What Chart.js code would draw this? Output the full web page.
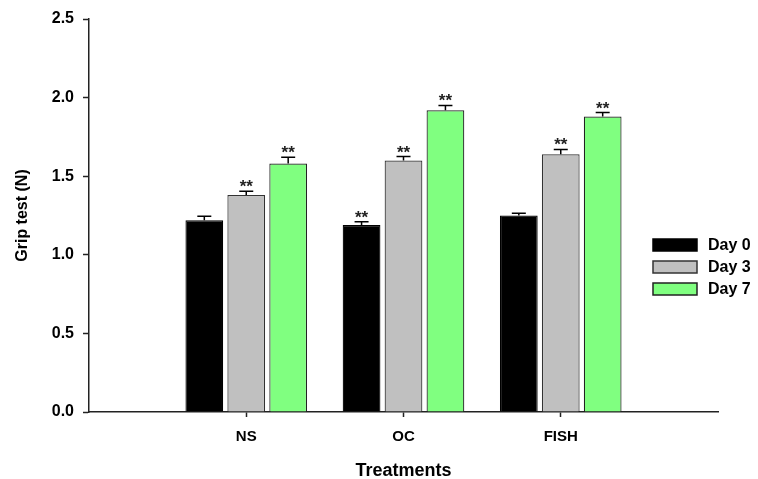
<!DOCTYPE html>
<html>
<head>
<meta charset="utf-8">
<script src="https://cdn.jsdelivr.net/npm/chart.js@4.4.1/dist/chart.umd.min.js"></script>
<style>
  body { margin: 0; background: #fff; }
  #wrap { width: 758px; height: 479px; }
</style>
</head>
<body>
<div id="wrap"><canvas id="gripChart" width="758" height="479"></canvas></div>
<script>
// ── Grip test data ----------------------------------------------------
// blank slots at both ends, the groups sit on whole positions 1..3
const treatments = ['', 'NS', 'OC', 'FISH', ''];
const seriesNames = ['Day 0', 'Day 3', 'Day 7'];

const day0 = [null, 1.22, 1.19, 1.25, null];
const day3 = [null, 1.38, 1.60, 1.64, null];
const day7 = [null, 1.58, 1.92, 1.88, null];

// SEM, upper whisker only
const err0 = [null, 0.025, 0.02, 0.015, null];
const err3 = [null, 0.025, 0.025, 0.03, null];
const err7 = [null, 0.04, 0.03, 0.025, null];

// significance marks
const sig0 = ['', '', '**', '', ''];
const sig3 = ['', '**', '**', '**', ''];
const sig7 = ['', '**', '**', '**', ''];

const yTicks = [0, 0.5, 1.0, 1.5, 2.0, 2.5];

const FONT = "'Liberation Sans', Arial, sans-serif";
const AXIS = '#222';

const errorBars = {
  id: 'errorBars',
  afterDatasetsDraw(chart) {
    const ctx = chart.ctx;
    const y = chart.scales.y;
    ctx.save();
    chart.data.datasets.forEach((ds, di) => {
      const meta = chart.getDatasetMeta(di);
      meta.data.forEach((bar, i) => {
        const v = ds.data[i];
        if (v == null) return;
        const top = y.getPixelForValue(v + ds.err[i]);
        const base = y.getPixelForValue(v);
        ctx.strokeStyle = '#000';
        ctx.lineWidth = 1.5;
        ctx.beginPath();
        ctx.moveTo(bar.x, base);
        ctx.lineTo(bar.x, top);
        ctx.moveTo(bar.x - 7, top);
        ctx.lineTo(bar.x + 7, top);
        ctx.stroke();
        if (ds.sig[i]) {
          ctx.fillStyle = '#222';
          ctx.font = `bold 17px ${FONT}`;
          ctx.textAlign = 'center';
          ctx.textBaseline = 'alphabetic';
          ctx.fillText(ds.sig[i], bar.x, top + 1);
        }
      });
    });
    ctx.restore();
  }
};

// legend sits inside the plot, to the right of FISH
const sideLegend = {
  id: 'sideLegend',
  afterDraw(chart) {
    const ctx = chart.ctx;
    ctx.save();
    chart.data.datasets.forEach((ds, i) => {
      const cy = 245 + i * 22;
      ctx.fillStyle = ds.backgroundColor;
      ctx.fillRect(653, cy - 6, 44, 12);
      ctx.strokeStyle = ds.borderColor;
      ctx.lineWidth = 1.5;
      ctx.strokeRect(653, cy - 6, 44, 12);
      ctx.fillStyle = '#000';
      ctx.font = `bold 16px ${FONT}`;
      ctx.textAlign = 'left';
      ctx.textBaseline = 'middle';
      ctx.fillText(ds.label, 708, cy + 1);
    });
    ctx.restore();
  }
};

function drawGripChart() {
  const canvas = document.getElementById('gripChart');
  const ctx = canvas.getContext('2d');

  const mk = (i, data, err, sig, fill, edge) => ({
    label: seriesNames[i],
    data, err, sig,
    backgroundColor: fill,
    borderColor: edge,
    borderWidth: 1.2,
    categoryPercentage: 0.8,
    barPercentage: 0.9,
  });

  const hideEnds = (c) => (c.index === 0 || c.index === treatments.length - 1) ? 'rgba(0,0,0,0)' : AXIS;

  new Chart(ctx, {
    type: 'bar',
    data: {
      labels: treatments,
      datasets: [
        mk(0, day0, err0, sig0, '#000000', '#000000'),
        mk(1, day3, err3, sig3, '#c0c0c0', '#333333'),
        mk(2, day7, err7, sig7, '#80ff80', '#222222'),
      ]
    },
    options: {
      responsive: false,
      animation: false,
      layout: { padding: { top: 19, right: 40, left: 0, bottom: 0 } },
      plugins: {
        legend:  { display: false },
        tooltip: { enabled: false }
      },
      scales: {
        x: {
          offset: false,
          afterFit: (s) => { s.height = 67; },
          border: { color: AXIS, width: 1.5 },
          grid: {
            offset: false,
            drawOnChartArea: false,
            tickLength: 5,
            tickWidth: 1.5,
            tickColor: hideEnds
          },
          ticks: {
            color: '#000', padding: 11, autoSkip: false, maxRotation: 0,
            font: { family: FONT, size: 15, weight: 'bold' }
          },
          title: {
            display: true, text: 'Treatments', color: '#000',
            padding: { top: 0, bottom: 0 },
            font: { family: FONT, size: 18, weight: 'bold', lineHeight: 0.9 }
          }
        },
        y: {
          min: 0, max: 2.5,
          afterFit: (s) => { s.width = 89; },
          afterBuildTicks: (s) => { s.ticks = yTicks.map(v => ({ value: v })); },
          border: { color: AXIS, width: 1.5 },
          grid: { drawOnChartArea: false, tickLength: 6, tickWidth: 1.5, tickColor: AXIS },
          ticks: {
            color: '#000', padding: 9,
            font: { family: FONT, size: 16, weight: 'bold' },
            callback: (v) => Number(v).toFixed(1)
          },
          title: {
            display: true, text: 'Grip test (N)', color: '#000',
            padding: { top: 13, bottom: 0 },
            font: { family: FONT, size: 16, weight: 'bold' }
          }
        }
      }
    },
    plugins: [errorBars, sideLegend]
  });
}

window.addEventListener('DOMContentLoaded', () => {
  drawGripChart();
});
</script>
</body>
</html>
